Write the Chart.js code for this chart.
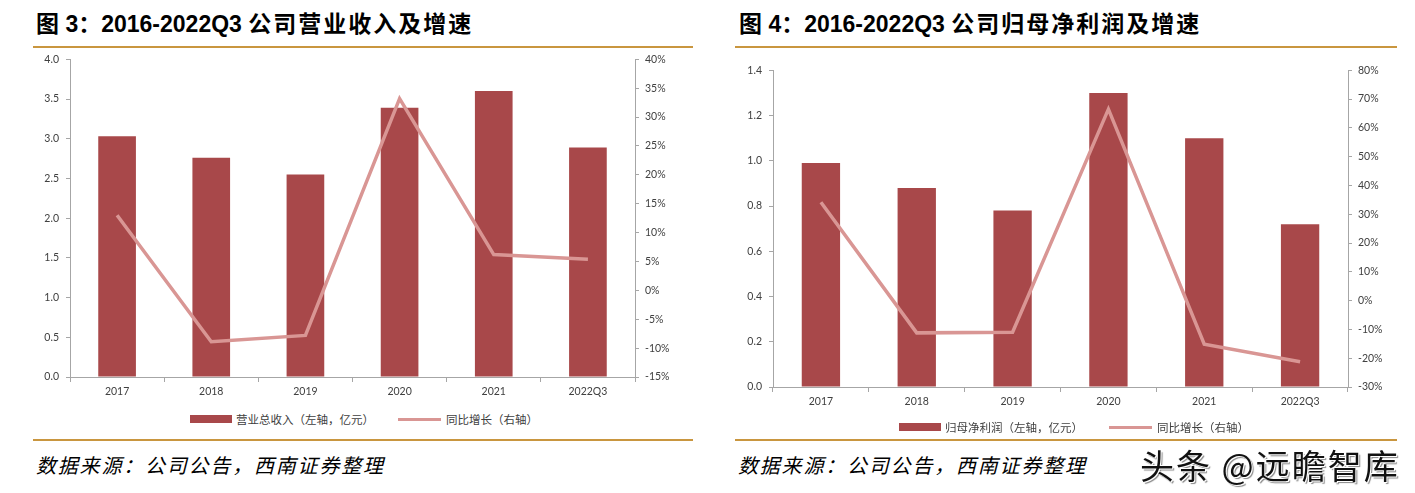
<!DOCTYPE html>
<html>
<head>
<meta charset="utf-8">
<script src="https://cdn.jsdelivr.net/npm/chart.js@4.4.0/dist/chart.umd.min.js"></script>
<style>
  html, body { margin: 0; padding: 0; background: #fff; }
  body { width: 1415px; height: 493px; position: relative; overflow: hidden; font-family: "Liberation Sans", "Noto Sans CJK SC", sans-serif; }
  .title { position: absolute; top: 5px; font-size: 23px; font-weight: bold; color: #000; white-space: nowrap; font-family: "Liberation Sans", "Noto Sans CJK SC", sans-serif; }
  .title .cjk { letter-spacing: 2px; }
  .rule { position: absolute; height: 2px; background: #C9963F; }
  .box { position: absolute; }
  .legend { position: absolute; font-family: "Noto Sans CJK SC", sans-serif; font-size: 11.5px; color: #404040; white-space: nowrap; display: flex; align-items: center; }
  .swatch-bar { display: inline-block; width: 42px; height: 8px; background: #A8484A; margin-right: 4px; }
  .swatch-line { display: inline-block; width: 43px; height: 3px; background: #D99694; margin-right: 5px; }
  .source { position: absolute; top: 450px; font-family: "Noto Sans CJK SC", sans-serif; font-size: 20px; letter-spacing: 1.8px; font-style: italic; color: #000; white-space: nowrap; }
  .mark { position: absolute; left: 1140px; top: 440px; font-family: "Noto Sans CJK SC", sans-serif; font-size: 34px; letter-spacing: 2px; color: #111; white-space: nowrap;
          text-shadow: 1px 1px 0 #fff, -1px -1px 0 #fff, 2px 2px 1px #888; }
</style>
</head>
<body>
<div class="title" style="left:36px;">图 3：2016-2022Q3 <span class="cjk">公司营业收入及增速</span></div>
<div class="title" style="left:739px;">图 4：2016-2022Q3 <span class="cjk">公司归母净利润及增速</span></div>
<div class="rule" style="left:33px; top:46px; width:660px;"></div>
<div class="rule" style="left:735px; top:46px; width:662px;"></div>

<div class="box" style="left:0; top:46px; width:700px; height:364px;"><canvas id="revChart"></canvas></div>
<div class="box" style="left:700px; top:57px; width:715px; height:363px;"><canvas id="profitChart"></canvas></div>

<div class="legend" style="left:190px; top:411px;"><span class="swatch-bar"></span>营业总收入（左轴，亿元）<span style="display:inline-block;width:24px;"></span><span class="swatch-line"></span>同比增长（右轴）</div>
<div class="legend" style="left:899px; top:419px;"><span class="swatch-bar"></span>归母净利润（左轴，亿元）<span style="display:inline-block;width:26px;"></span><span class="swatch-line"></span>同比增长（右轴）</div>

<div class="rule" style="left:33px; top:439px; width:660px;"></div>
<div class="rule" style="left:735px; top:439px; width:662px;"></div>

<div class="source" style="left:36px;">数据来源：公司公告，西南证券整理</div>
<div class="source" style="left:738px;">数据来源：公司公告，西南证券整理</div>
<div class="mark">头条 @远瞻智库</div>

<script>
const categories = ['2017', '2018', '2019', '2020', '2021', '2022Q3'];

const revenue = [3.03, 2.76, 2.55, 3.39, 3.60, 2.89];
const revenueGrowth = [13.0, -8.9, -7.8, 33.2, 6.2, 5.4];

const netProfit = [0.99, 0.88, 0.78, 1.30, 1.10, 0.72];
const profitGrowth = [34.2, -11.2, -11.0, 66.5, -15.1, -21.2];

const BAR_COLOR = '#A8484A';
const LINE_COLOR = '#D99694';
const AXIS_COLOR = '#A6A6A6';
const TICK_FONT = { family: 'Lato, "Liberation Sans", sans-serif', size: 10.5 };

function makeChart(id, bars, growth, leftMax, leftStep, leftDigits, rightMin, rightMax, rightStep, leftWidth, rightWidth, padTop) {
  return new Chart(document.getElementById(id), {
    data: {
      labels: categories,
      datasets: [
        {
          type: 'line',
          data: growth,
          yAxisID: 'y1',
          borderColor: LINE_COLOR,
          borderWidth: 3.5,
          pointRadius: 0,
          tension: 0,
          order: 0
        },
        {
          type: 'bar',
          data: bars,
          yAxisID: 'y',
          backgroundColor: BAR_COLOR,
          categoryPercentage: 1,
          barPercentage: 0.4,
          order: 1
        }
      ]
    },
    options: {
      responsive: true,
      maintainAspectRatio: false,
      animation: false,
      layout: { padding: { top: padTop, bottom: 8, left: 0, right: 0 } },
      plugins: { legend: { display: false }, tooltip: { enabled: false } },
      scales: {
        x: {
          offset: true,
          grid: { drawOnChartArea: false, offset: true, color: AXIS_COLOR, tickLength: 5 },
          border: { color: AXIS_COLOR, width: 1 },
          ticks: { color: '#404040', font: TICK_FONT, padding: 3, maxRotation: 0 },
          afterFit: scale => { scale.height = 25; }
        },
        y: {
          position: 'left',
          min: 0,
          max: leftMax,
          grid: { drawOnChartArea: false, color: AXIS_COLOR, tickLength: 4 },
          border: { color: AXIS_COLOR, width: 1 },
          ticks: { stepSize: leftStep, color: '#404040', font: TICK_FONT, padding: 7,
                   callback: v => v.toFixed(leftDigits) },
          afterFit: scale => { scale.width = leftWidth; }
        },
        y1: {
          position: 'right',
          min: rightMin,
          max: rightMax,
          grid: { drawOnChartArea: false, color: AXIS_COLOR, tickLength: 4 },
          border: { color: AXIS_COLOR, width: 1 },
          ticks: { stepSize: rightStep, color: '#404040', font: TICK_FONT, padding: 6,
                   callback: v => v + '%' },
          afterFit: scale => { scale.width = rightWidth; }
        }
      }
    }
  });
}

makeChart('revChart', revenue, revenueGrowth, 4, 0.5, 1, -15, 40, 5, 70, 65, 5);
makeChart('profitChart', netProfit, profitGrowth, 1.4, 0.2, 1, -30, 80, 10, 73, 67, 8);
</script>
</body>
</html>
